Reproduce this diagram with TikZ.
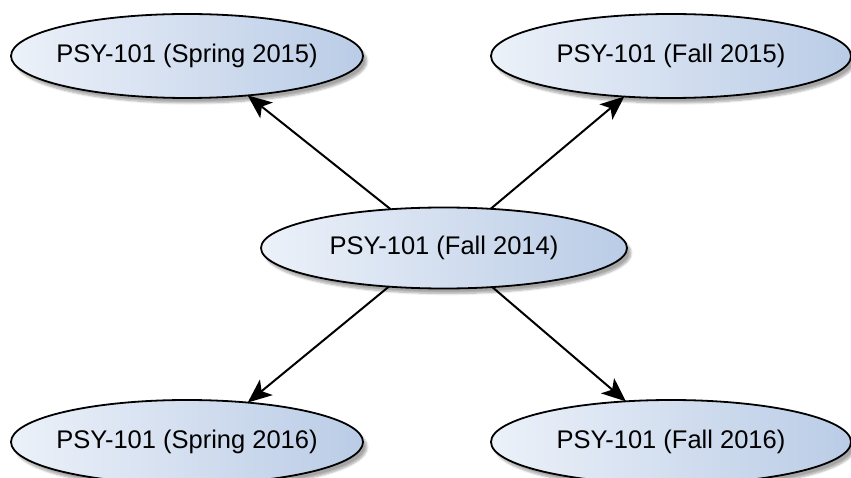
\documentclass[tikz,border=0pt]{standalone}
\usepackage{fontspec}
\setmainfont{Liberation Sans}
\usetikzlibrary{arrows.meta,shapes.geometric,shadows.blur}

\definecolor{courseLight}{RGB}{236,241,249}
\definecolor{courseDark}{RGB}{186,204,230}

\newcommand{\courselabel}[1]{\makebox[0pt][c]{#1}}

\tikzset{
  course/.style={
    ellipse, draw=black, line width=1.8pt, inner sep=0pt, outer sep=0pt,
    left color=courseLight, right color=courseDark,
    blur shadow={shadow xshift=4pt, shadow yshift=-5pt,
                 shadow blur steps=8, shadow opacity=35},
    font=\fontsize{25.5}{30}\selectfont, text=black
  },
  course wide/.style={course, minimum width=360pt, minimum height=84pt},
  course narrow/.style={course, minimum width=352pt, minimum height=84pt},
  link/.style={draw=black, line width=2pt,
    -{Stealth[length=24pt, width=20pt, inset=6pt]}}
}

\begin{document}
\begin{tikzpicture}[x=1pt, y=1pt]
  \useasboundingbox (0,0) rectangle (851,477);
  \clip (0,0) rectangle (851,477);

  % central offering
  \node[course, minimum width=366pt, minimum height=81pt] (c) at (444,229)
    {\courselabel{PSY-101 (Fall 2014)}};

  % follow-up offerings
  \node[course narrow] (tl) at (187,421) {\courselabel{PSY-101 (Spring 2015)}};
  \node[course wide]   (tr) at (671,421) {\courselabel{PSY-101 (Fall 2015)}};
  \node[course narrow] (bl) at (187,35)  {\courselabel{PSY-101 (Spring 2016)}};
  \node[course wide]   (br) at (671,35)  {\courselabel{PSY-101 (Fall 2016)}};

  % connectors
  \draw[link] (c.144.4) -- (tl.-33.9);
  \draw[link] (c.40.4)  -- (tr.221.4);
  \draw[link] (c.215.6) -- (bl.33.9);
  \draw[link] (c.-39.2) -- (br.138.6);
\end{tikzpicture}
\end{document}
